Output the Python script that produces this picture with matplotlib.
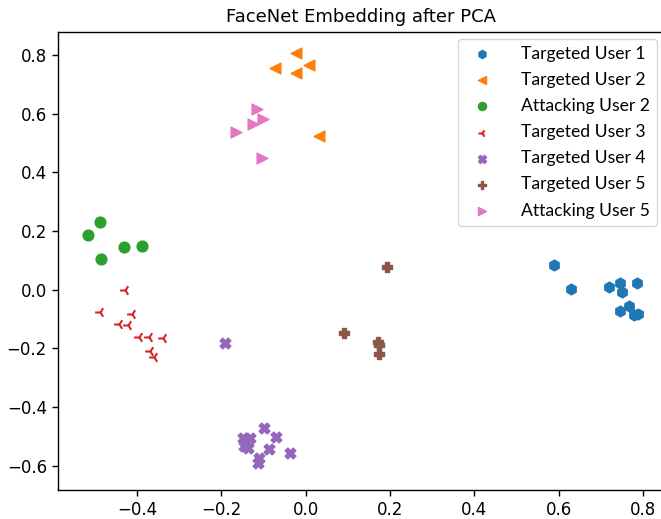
import matplotlib
matplotlib.use("Agg")
import matplotlib.pyplot as plt

# valores (PCA 2D de embeddings FaceNet)
tu1_x = [0.589, 0.629, 0.719, 0.747, 0.750, 0.787, 0.747, 0.766, 0.780, 0.788]
tu1_y = [0.084, 0.003, 0.008, 0.022, -0.007, 0.022, -0.071, -0.057, -0.086, -0.083]

tu2_x = [-0.023, -0.073, -0.023, 0.009, 0.032]
tu2_y = [0.807, 0.756, 0.739, 0.766, 0.524]

au2_x = [-0.516, -0.489, -0.486, -0.431, -0.387]
au2_y = [0.186, 0.230, 0.104, 0.145, 0.150]

tu3_x = [-0.429, -0.488, -0.413, -0.442, -0.421, -0.395, -0.371, -0.339, -0.369, -0.360]
tu3_y = [-0.001, -0.075, -0.084, -0.115, -0.120, -0.160, -0.160, -0.163, -0.209, -0.228]

tu4_x = [-0.191, -0.148, -0.132, -0.136, -0.146, -0.098, -0.071, -0.087, -0.110, -0.112, -0.037]
tu4_y = [-0.182, -0.504, -0.504, -0.540, -0.533, -0.472, -0.503, -0.544, -0.574, -0.590, -0.557]

tu5_x = [0.194, 0.091, 0.172, 0.175, 0.174]
tu5_y = [0.078, -0.149, -0.177, -0.188, -0.220]

au5_x = [-0.116, -0.101, -0.126, -0.164, -0.104]
au5_y = [0.616, 0.582, 0.564, 0.536, 0.448]

fig = plt.figure(figsize=(6.61, 5.19), dpi=100)
ax = fig.add_axes([0.0874, 0.0565, 0.917, 0.8824])

s = 60
ax.scatter(tu1_x, tu1_y, marker='h', s=s, color='tab:blue', label='Targeted User 1')
ax.scatter(tu2_x, tu2_y, marker='<', s=s, color='tab:orange', label='Targeted User 2')
ax.scatter(au2_x, au2_y, marker='o', s=s, color='tab:green', label='Attacking User 2')
ax.scatter(tu3_x, tu3_y, marker='3', s=s, color='tab:red', label='Targeted User 3')
ax.scatter(tu4_x, tu4_y, marker='X', s=s, color='tab:purple', label='Targeted User 4')
ax.scatter(tu5_x, tu5_y, marker='P', s=s, color='tab:brown', label='Targeted User 5')
ax.scatter(au5_x, au5_y, marker='>', s=s, color='tab:pink', label='Attacking User 5')

ax.set_xlim(-0.588, 0.850)
ax.set_ylim(-0.681, 0.879)
ax.set_xticks([-0.4, -0.2, 0.0, 0.2, 0.4, 0.6, 0.8])
ax.set_yticks([-0.6, -0.4, -0.2, 0.0, 0.2, 0.4, 0.6, 0.8])
ax.tick_params(labelsize=12, length=4.3, width=1)
for sp in ax.spines.values():
    sp.set_linewidth(1)

ax.set_title('FaceNet Embedding after PCA', fontsize=13, pad=7)
ax.legend(loc='upper right', prop={'family': 'Lato', 'size': 12.6}, markerscale=0.75,
          labelspacing=0.58, borderaxespad=0.4, handletextpad=1.2)

fig.savefig('out.png', dpi=100)
